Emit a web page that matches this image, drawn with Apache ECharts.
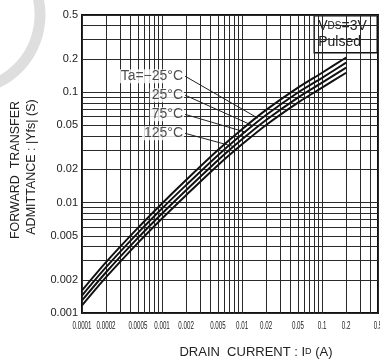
<!DOCTYPE html>
<html>
<head>
<meta charset="utf-8">
<script src="https://cdn.jsdelivr.net/npm/echarts@6/dist/echarts.min.js"></script>
<style>
  html, body { margin: 0; padding: 0; background: #fff; }
  #main { width: 380px; height: 363px; }
</style>
</head>
<body>
<div id="main"></div>
<script>
// drain current (A)
var corrente = [0.0001, 0.0002, 0.0005, 0.001, 0.002, 0.005, 0.01, 0.02, 0.05, 0.1, 0.2];
// |Yfs| (S) per temperature
var yfsMenos25 = [0.0016, 0.00289, 0.0059, 0.00982, 0.0160, 0.0299, 0.0462, 0.0691, 0.110, 0.150, 0.206];
var yfs25 = [0.00144, 0.0026, 0.00532, 0.00885, 0.0144, 0.0269, 0.0416, 0.0622, 0.0993, 0.135, 0.185];
var yfs75 = [0.0013, 0.00234, 0.00479, 0.00797, 0.01295, 0.0242, 0.0374, 0.0560, 0.0894, 0.122, 0.167];
var yfs125 = [0.00117, 0.00211, 0.00432, 0.00718, 0.01167, 0.0218, 0.0337, 0.0505, 0.0805, 0.110, 0.150];

var rotulosX = [0.0001, 0.0002, 0.0005, 0.001, 0.002, 0.005, 0.01, 0.02, 0.05, 0.1, 0.2, 0.5];
var rotulosY = [0.001, 0.002, 0.005, 0.01, 0.02, 0.05, 0.1, 0.2, 0.5];
var gradeX = [];
var gradeY = [];
[0.0001, 0.001, 0.01, 0.1].forEach(function (d) {
	for (var k = 1; k <= 9; k++) {
		var v = +(d * k).toPrecision(3);
		if (v <= 0.5) gradeX.push(v);
	}
});
gradeX.push(0.5);
[0.001, 0.01, 0.1].forEach(function (d) {
	for (var k = 1; k <= 9; k++) {
		var v = +(d * k).toPrecision(3);
		if (v <= 0.5) gradeY.push(v);
	}
});

// legend labels: [text, label point, end of leader on the curve]
var etiquetas = [
	['Ta=\u221225\u00b0C', [0.00194, 0.1396], [0.0158, 0.0581]],
	['25\u00b0C', [0.00194, 0.094], [0.01334, 0.0501]],
	['75\u00b0C', [0.00194, 0.063], [0.0112, 0.0433]],
	['125\u00b0C', [0.00194, 0.0424], [0.00772, 0.0323]]
];

function pares(valores) {
	return corrente.map(function (c, i) { return [c, valores[i]]; });
}

function serieCurva(nome, valores) {
	return {
		name: nome,
		type: 'line',
		data: pares(valores),
		smooth: 0.3,
		symbol: 'none',
		lineStyle: { color: '#111', width: 2 },
		z: 5,
		silent: true
	};
}

var fonte = 'Liberation Sans, Arial, sans-serif';

var myChart = echarts.init(document.getElementById('main'));
var option = {
	animation: false,
	grid: {
		left: 82, right: 2, top: 15, bottom: 50,
		show: true, borderColor: '#111', borderWidth: 2, backgroundColor: 'transparent'
	},
	xAxis: {
		type: 'log', logBase: 10, min: 0.0001, max: 0.5,
		axisLine: { show: false },
		axisTick: { show: false, customValues: gradeX },
		splitLine: { show: true, lineStyle: { color: '#2a2a2a', width: 1 } },
		axisLabel: { show: false }
	},
	yAxis: {
		type: 'log', logBase: 10, min: 0.001, max: 0.5,
		axisLine: { show: false },
		axisTick: { show: false, customValues: gradeY },
		splitLine: { show: true, lineStyle: { color: '#2a2a2a', width: 1 } },
		axisLabel: {
			customValues: rotulosY,
			fontFamily: fonte, fontSize: 11, color: '#222', margin: 4,
			formatter: function (v) { return String(+v.toPrecision(3)); }
		}
	},
	series: [
		serieCurva('-25', yfsMenos25),
		serieCurva('25', yfs25),
		serieCurva('75', yfs75),
		serieCurva('125', yfs125),
		{
			type: 'line',
			data: [],
			silent: true,
			markLine: {
				symbol: 'none',
				silent: true,
				label: { show: false },
				lineStyle: { color: '#222', width: 1, type: 'solid' },
				data: etiquetas.map(function (e) {
					return [{ coord: e[1] }, { coord: e[2] }];
				})
			}
		},
		{
			type: 'scatter',
			symbolSize: 0,
			silent: true,
			z: 10,
			data: etiquetas.map(function (e) { return { value: e[1], nome: e[0] }; }),
			label: {
				show: true,
				position: 'left',
				distance: 1,
				formatter: function (p) { return p.data.nome; },
				fontFamily: fonte, fontSize: 14, color: '#222',
				backgroundColor: '#fff', padding: [0, 1, 0, 2]
			}
		}
	],
	graphic: [
		{
			type: 'arc',
			shape: { cx: -35, cy: 15, r: 75, startAngle: -Math.PI / 5, endAngle: Math.PI / 2.5 },
			style: { stroke: '#dedede', lineWidth: 11, fill: null },
			z: -10, silent: true
		},
		{
			type: 'group', right: 2, top: 15, z: 100,
			children: [
				{
					type: 'rect', shape: { x: 0, y: 0, width: 63, height: 37 },
					style: { fill: '#fff', stroke: '#111', lineWidth: 1.5 }
				},
				{
					type: 'text', left: 4, top: 2,
					style: {
						text: 'V{s|DS}=3V\nPulsed',
						font: '14px ' + fonte, fill: '#222', lineHeight: 16,
						rich: { s: { fontSize: 10, fontFamily: fonte, fill: '#222', lineHeight: 16 } }
					}
				}
			]
		},
		{
			type: 'text', rotation: Math.PI / 2, x: 16, y: 170,
			style: {
				text: 'FORWARD  TRANSFER', font: '12.5px ' + fonte, fill: '#222',
				align: 'center', verticalAlign: 'middle'
			}
		},
		{
			type: 'text', rotation: Math.PI / 2, x: 32, y: 167,
			style: {
				text: 'ADMITTANCE : |Yfs| (S)', font: '12.5px ' + fonte, fill: '#222',
				align: 'center', verticalAlign: 'middle'
			}
		},
		{
			type: 'text', x: 256, y: 352,
			style: {
				text: 'DRAIN  CURRENT : I{s|D} (A)', font: '13px ' + fonte, fill: '#222',
				align: 'center', verticalAlign: 'middle',
				rich: { s: { fontSize: 9, fontFamily: fonte, fill: '#222' } }
			}
		}
	]
};

myChart.setOption(option);

// condensed x tick labels, placed through the axis scale
var base = myChart.convertToPixel({ yAxisIndex: 0 }, 0.001);
var rotulosGraficos = rotulosX.map(function (v) {
	return {
		type: 'text',
		x: myChart.convertToPixel({ xAxisIndex: 0 }, v),
		y: base + 13,
		scaleX: 0.62,
		silent: true,
		style: {
			text: String(v), font: '10px ' + fonte, fill: '#222',
			align: 'center', verticalAlign: 'middle'
		}
	};
});
myChart.setOption({ graphic: option.graphic.concat(rotulosGraficos) });
</script>
</body>
</html>
